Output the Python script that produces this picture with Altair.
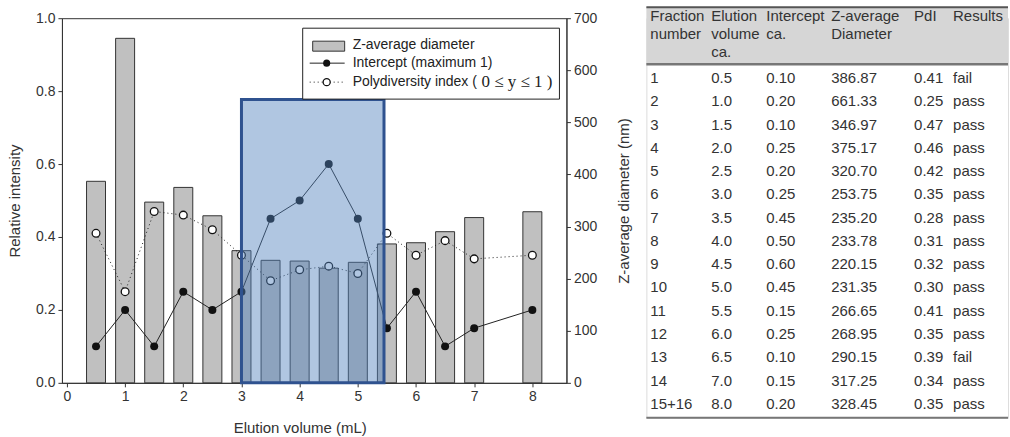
import altair as alt
import pandas as pd

# ---------------- data ----------------
fractions = ["1", "2", "3", "4", "5", "6", "7", "8", "9", "10", "11", "12", "13", "14", "15+16"]
elution = [0.5, 1.0, 1.5, 2.0, 2.5, 3.0, 3.5, 4.0, 4.5, 5.0, 5.5, 6.0, 6.5, 7.0, 8.0]
intercept = [0.10, 0.20, 0.10, 0.25, 0.20, 0.25, 0.45, 0.50, 0.60, 0.45, 0.15, 0.25, 0.10, 0.15, 0.20]
diameter = [386.87, 661.33, 346.97, 375.17, 320.70, 253.75, 235.20, 233.78, 220.15, 231.35,
            266.65, 268.95, 290.15, 317.25, 328.45]
pdi = [0.41, 0.25, 0.47, 0.46, 0.42, 0.35, 0.28, 0.31, 0.32, 0.30, 0.41, 0.35, 0.39, 0.34, 0.35]
results = ["fail", "pass", "pass", "pass", "pass", "pass", "pass", "pass", "pass", "pass",
           "pass", "pass", "fail", "pass", "pass"]

highlight_x = [3.0, 5.45]
highlight_y = [0.0, 0.777]

legend_labels = ["Z-average diameter", "Intercept (maximum 1)", "Polydiversity index (", "0 \u2264 y \u2264 1 )"]

table_headers = [["Fraction", "number"], ["Elution", "volume", "ca."], ["Intercept", "ca."],
                 ["Z-average", "Diameter"], ["PdI"], ["Results"]]
table_keys = ["frac", "vol", "icpt", "zavg", "pdi", "res"]

x_ticks = [0, 1, 2, 3, 4, 5, 6, 7, 8]
left_ticks = [0.0, 0.2, 0.4, 0.6, 0.8, 1.0]
right_ticks = [0, 100, 200, 300, 400, 500, 600, 700]

# ---------------- layout / style constants ----------------
W, H = 505, 365
FONT = "Liberation Sans"
INK = "#222222"
TXT = "#333333"

axis_style = dict(
    labelFont=FONT, labelFontSize=14, labelColor=TXT,
    titleFont=FONT, titleFontSize=15, titleColor=TXT, titleFontWeight="normal",
    domainColor="#333333", tickColor="#333333", tickSize=4, labelPadding=3, grid=False,
)

df = pd.DataFrame({"elution": elution, "intercept": intercept, "diameter": diameter, "pdi": pdi})
hl = pd.DataFrame({"x0": [highlight_x[0]], "x1": [highlight_x[1]],
                   "y0": [highlight_y[0]], "y1": [highlight_y[1]]})


def x_enc(field):
    return alt.X(f"{field}:Q", scale=alt.Scale(domain=[0, 8.5], nice=False, zero=False),
                 axis=alt.Axis(values=x_ticks, format="d", title="Elution volume (mL)",
                               titleX=238, titleY=50, titleAlign="center",
                               titleBaseline="alphabetic", **axis_style))


def y_left(field):
    return alt.Y(f"{field}:Q", scale=alt.Scale(domain=[0, 1], nice=False),
                 axis=alt.Axis(orient="left", values=left_ticks, format=".1f",
                               title="Relative intensity", titleAngle=270, titleX=-42,
                               titleY=H / 2, titleAlign="center", titleBaseline="alphabetic",
                               **axis_style))


bars = alt.Chart(df).mark_bar(size=19, fill="#C0C0C0", stroke="#333333", strokeWidth=1).encode(
    x=x_enc("elution"),
    y=alt.Y("diameter:Q", scale=alt.Scale(domain=[0, 700], nice=False),
            axis=alt.Axis(orient="right", values=right_ticks, title="Z-average diameter (nm)",
                          titleAngle=270, titleX=62, titleY=H / 2, titleAlign="center",
                          titleBaseline="alphabetic", **axis_style)),
)

int_line = alt.Chart(df).mark_line(color=INK, strokeWidth=1).encode(x=x_enc("elution"), y=y_left("intercept"))
int_pts = alt.Chart(df).mark_point(filled=True, shape="circle", size=64, color="#111111", opacity=1).encode(
    x=x_enc("elution"), y=y_left("intercept"))
pdi_line = alt.Chart(df).mark_line(color=INK, strokeWidth=1, strokeDash=[1, 3]).encode(
    x=x_enc("elution"), y=y_left("pdi"))
pdi_pts = alt.Chart(df).mark_point(shape="circle", size=60, fill="white", stroke="#111111",
                                   strokeWidth=1.3, opacity=1, fillOpacity=1).encode(
    x=x_enc("elution"), y=y_left("pdi"))
highlight = alt.Chart(hl).mark_rect(fill="#4F81BD", fillOpacity=0.45, stroke="#2F528F", strokeWidth=3).encode(
    x=x_enc("x0"), x2="x1:Q", y=y_left("y0"), y2="y1:Q")

left_group = alt.layer(int_line, pdi_line, int_pts, pdi_pts, highlight)

# ---------------- legend (decorative, pixel placed) ----------------
one = pd.DataFrame({"k": [0]})
lg_box = alt.Chart(one).mark_rect(fill="white", stroke=INK, strokeWidth=1).encode(
    x=alt.value(241), x2=alt.value(498), y=alt.value(10), y2=alt.value(81))
lg_bar = alt.Chart(one).mark_rect(fill="#C0C0C0", stroke="#333333", strokeWidth=1).encode(
    x=alt.value(251), x2=alt.value(283), y=alt.value(23), y2=alt.value(33))
lg_l1 = alt.Chart(one).mark_rule(color=INK, strokeWidth=1).encode(
    x=alt.value(248), x2=alt.value(283), y=alt.value(45))
lg_p1 = alt.Chart(one).mark_point(filled=True, shape="circle", size=50, color="#111111", opacity=1).encode(
    x=alt.value(265), y=alt.value(45))
lg_l2 = alt.Chart(one).mark_rule(color=INK, strokeWidth=1, strokeDash=[1, 3]).encode(
    x=alt.value(248), x2=alt.value(283), y=alt.value(64))
lg_p2 = alt.Chart(one).mark_point(shape="circle", size=50, fill="white", stroke="#111111",
                                  strokeWidth=1.3, opacity=1, fillOpacity=1).encode(
    x=alt.value(265), y=alt.value(64))
lg_t = [
    alt.Chart(one).mark_text(align="left", baseline="middle", font=FONT, fontSize=14, color=INK).encode(
        x=alt.value(291), y=alt.value(yy), text=alt.value(lbl))
    for lbl, yy in zip(legend_labels[:3], [27, 45, 64])
]
lg_math = alt.Chart(one).mark_text(align="left", baseline="middle", font="Liberation Serif",
                                   fontSize=17, color=INK).encode(
    x=alt.value(420), y=alt.value(64), text=alt.value(legend_labels[3]))

left = alt.layer(
    bars, left_group, lg_box, lg_bar, lg_l1, lg_p1, lg_l2, lg_p2, *lg_t, lg_math
).resolve_scale(y="independent").properties(
    width=W, height=H, view=alt.ViewBackground(stroke="#333333", strokeWidth=1))

# ---------------- table ----------------
TW, TH = 362, 400
col_offsets = [4, 65, 120, 185, 268, 307]
tbl = pd.DataFrame({
    "row": list(range(len(fractions))),
    "frac": fractions,
    "vol": [f"{v:.1f}" for v in elution],
    "icpt": [f"{v:.2f}" for v in intercept],
    "zavg": [f"{v:.2f}" for v in diameter],
    "pdi": [f"{v:.2f}" for v in pdi],
    "res": results,
})
row_scale = alt.Scale(domain=[0, len(fractions) - 1], range=[60, 386])

t_bg = alt.Chart(one).mark_rect(fill="#D6D6D6").encode(
    x=alt.value(0), x2=alt.value(TW), y=alt.value(-11), y2=alt.value(46))
t_top = alt.Chart(one).mark_rule(color="#555555", strokeWidth=2).encode(
    x=alt.value(0), x2=alt.value(TW), y=alt.value(-11))
t_mid = alt.Chart(one).mark_rule(color="#777777", strokeWidth=2.5).encode(
    x=alt.value(0), x2=alt.value(TW), y=alt.value(46))
t_bot = alt.Chart(one).mark_rule(color="#777777", strokeWidth=2).encode(
    x=alt.value(0), x2=alt.value(TW), y=alt.value(400))

t_layers = [t_bg, t_top, t_mid, t_bot]
for key, off, head in zip(table_keys, col_offsets, table_headers):
    t_layers.append(
        alt.Chart(one).mark_text(align="left", baseline="top", font=FONT, fontSize=15,
                                 color=TXT, lineHeight=18).encode(
            x=alt.value(off), y=alt.value(-9), text=alt.value(head)))
    t_layers.append(
        alt.Chart(tbl).mark_text(align="left", baseline="middle", font=FONT, fontSize=15,
                                 color=TXT).encode(
            x=alt.value(off), y=alt.Y("row:Q", scale=row_scale, axis=None),
            text=alt.Text(f"{key}:N")))

table = alt.layer(*t_layers).properties(width=TW, height=TH)

chart = alt.hconcat(left, table, spacing=80, bounds="flush").properties(
    padding={"left": 7, "top": 5, "right": 0, "bottom": 0}
).configure_view(stroke=None).configure(background="white")

chart.save("out.html", embed_options={"renderer": "svg", "actions": False})
